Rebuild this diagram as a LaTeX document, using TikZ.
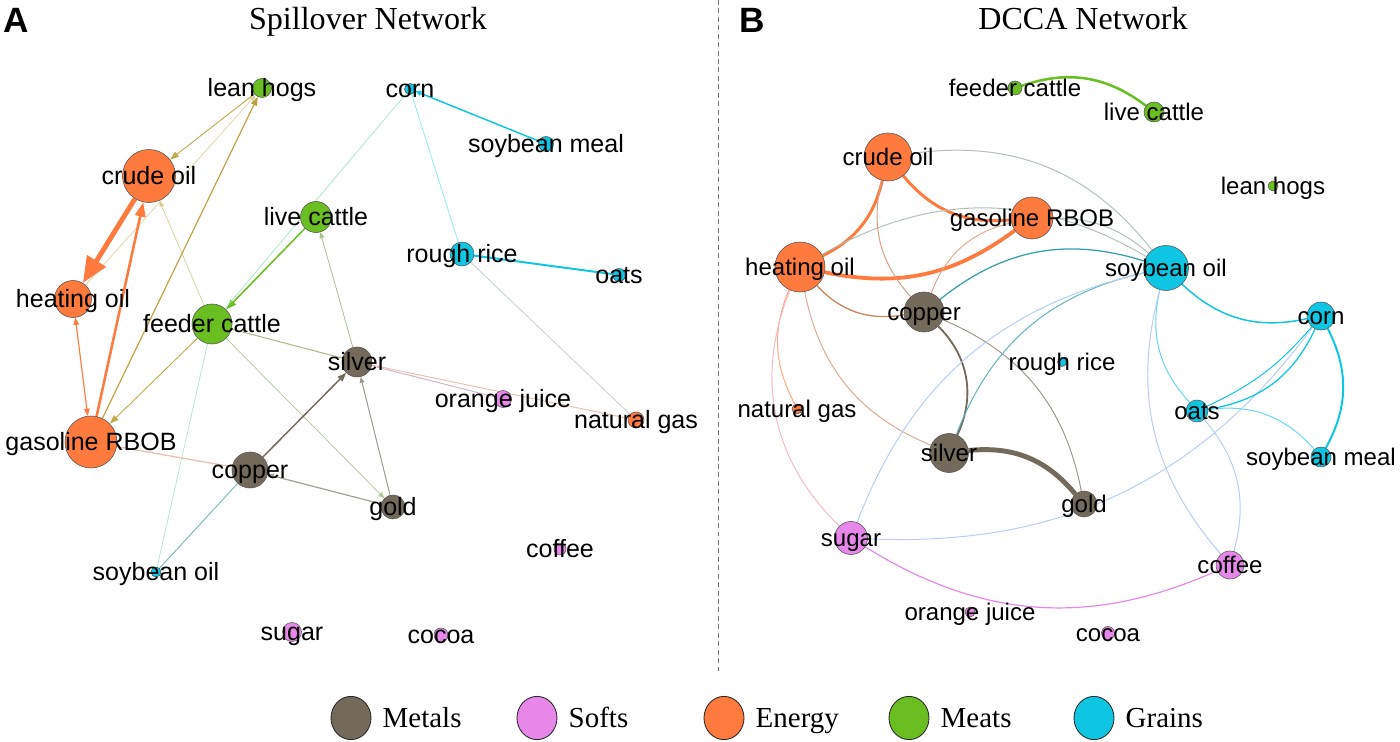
\documentclass[tikz,border=0pt]{standalone}
\usepackage{fontspec}
\setmainfont{Liberation Serif}
\setsansfont{Liberation Sans}
\usepackage{xcolor}
\usepackage{tikz}
\usetikzlibrary{arrows.meta, shapes.geometric, backgrounds, positioning}
\definecolor{metal}{RGB}{115,106,92}
\definecolor{soft}{RGB}{232,135,234}
\definecolor{energy}{RGB}{254,122,61}
\definecolor{meat}{RGB}{106,190,34}
\definecolor{grain}{RGB}{14,197,226}
\definecolor{rim}{RGB}{85,85,85}
\tikzset{
    dotnode/.style = {draw=rim, circle, line width=0.4pt, inner sep=0em, minimum size=#1*0.5mm},
    metalnode/.style = {dotnode=#1, fill=metal},
    softnode/.style = {dotnode=#1, fill=soft},
    energynode/.style = {dotnode=#1, fill=energy},
    meatnode/.style = {dotnode=#1, fill=meat},
    grainnode/.style = {dotnode=#1, fill=grain},
    textnode/.style = {inner sep=0em, font=\sffamily\fontsize{17.8}{20}\selectfont, text height=12.8pt, text depth=0pt},
    smalltextnode/.style = {inner sep=0em, font=\sffamily\fontsize{17.1}{20}\selectfont, text height=12.3pt, text depth=0pt},
    titlenode/.style = {inner sep=0em, font=\fontsize{22.8}{26}\selectfont},
    lettnode/.style = {inner sep=0em, font=\sffamily\bfseries\fontsize{25}{28}\selectfont},
    keynode/.style = {draw=black!85, ellipse, line width=0.6pt, inner sep=0em, minimum width=10mm, minimum height=10.8mm},
    keytext/.style = {inner sep=0em, font=\fontsize{20.6}{24}\selectfont, text height=13.6pt, text depth=0pt},
    divider/.style = {draw=black!55, line width=0.7pt, dash pattern=on 3.5pt off 2.5pt},
    link/.style = {draw=#1, line width=0.7pt},
    bendy/.style = {bend left=#1},
    bendy/.default = 28,
    bigtip/.style = {-{Triangle[length=6.5mm, width=5.3mm]}},
    midtip/.style = {-{Triangle[length=3.6mm, width=2.6mm]}},
    greentip/.style = {-{Triangle[length=2.6mm, width=1.8mm]}},
    smalltip/.style = {-{Triangle[length=2.2mm, width=1.6mm]}},
    tinytip/.style = {-{Triangle[length=1.5mm, width=1.2mm]}},
    twotip/.style = {{Triangle[length=1.8mm, width=1.4mm]}-{Triangle[length=1.8mm, width=1.4mm]}}
}

\begin{document}
\begin{tikzpicture}[x=0.025cm, y=0.025cm]
\useasboundingbox (0,0) rectangle (1400,742);

\node[lettnode, anchor=base west, name=lA] at (3,709) {A};
\node[titlenode, anchor=base, name=tA] at (368,712) {Spillover Network};
\node[lettnode, anchor=base west, name=lB] at (739,709) {B};
\node[titlenode, anchor=base, name=tB] at (1083,712) {DCCA Network};

\coordinate (d1) at (718,742);
\coordinate (d2) at (718,69);
\draw[divider] (d1) -- (d2);

\node[meatnode=9.5, name=A-lh, label={[textnode, name=A-lh-t]center:lean hogs}] at (262,654) {};
\node[grainnode=5.5, name=A-cn, label={[textnode, name=A-cn-t]center:corn}] at (410,653) {};
\node[grainnode=7.5, name=A-sm, label={[textnode, name=A-sm-t]center:soybean meal}] at (546,598) {};
\node[energynode=26.5, name=A-co, label={[textnode, name=A-co-t]center:crude oil}] at (149,566) {};
\node[meatnode=15.5, name=A-lc, label={[textnode, name=A-lc-t]center:live cattle}] at (316,525) {};
\node[grainnode=12, name=A-rr, label={[textnode, name=A-rr-t]center:rough rice}] at (462,488) {};
\node[grainnode=6.5, name=A-oa, label={[textnode, name=A-oa-t]center:oats}] at (619,467) {};
\node[energynode=18.5, name=A-ho, label={[textnode, name=A-ho-t]center:heating oil}] at (73,443) {};
\node[meatnode=20, name=A-fc, label={[textnode, name=A-fc-t]center:feeder cattle}] at (212,418) {};
\node[metalnode=15, name=A-si, label={[textnode, name=A-si-t]center:silver}] at (357,380) {};
\node[softnode=8.5, name=A-oj, label={[textnode, name=A-oj-t]center:orange juice}] at (503,343) {};
\node[energynode=8, name=A-ng, label={[textnode, name=A-ng-t]center:natural gas}] at (636,322) {};
\node[energynode=26, name=A-gr, label={[textnode, name=A-gr-t]center:gasoline RBOB}] at (91,300) {};
\node[metalnode=18, name=A-cu, label={[textnode, name=A-cu-t]center:copper}] at (250,272) {};
\node[metalnode=12, name=A-go, label={[textnode, name=A-go-t]center:gold}] at (393,235) {};
\node[softnode=6, name=A-cf, label={[textnode, name=A-cf-t]center:coffee}] at (560,193) {};
\node[grainnode=5, name=A-so, label={[textnode, name=A-so-t]center:soybean oil}] at (156,170) {};
\node[softnode=9.5, name=A-su, label={[textnode, name=A-su-t]center:sugar}] at (292,110) {};
\node[softnode=7, name=A-cc, label={[textnode, name=A-cc-t]center:cocoa}] at (441,107) {};

\node[meatnode=7, name=B-fc, label={[smalltextnode, name=B-fc-t]center:feeder cattle}] at (1015,654) {};
\node[meatnode=10, name=B-lc, label={[smalltextnode, name=B-lc-t]center:live cattle}] at (1154,630) {};
\node[energynode=24, name=B-co, label={[smalltextnode, name=B-co-t]center:crude oil}] at (888,585) {};
\node[meatnode=5, name=B-lh, label={[smalltextnode, name=B-lh-t]center:lean hogs}] at (1273,556) {};
\node[energynode=21, name=B-gr, label={[smalltextnode, name=B-gr-t]center:gasoline RBOB}] at (1032,524) {};
\node[energynode=25, name=B-ho, label={[smalltextnode, name=B-ho-t]center:heating oil}] at (800,475) {};
\node[grainnode=22.5, name=B-so, label={[smalltextnode, name=B-so-t]center:soybean oil}] at (1166,474) {};
\node[metalnode=20, name=B-cu, label={[smalltextnode, name=B-cu-t]center:copper}] at (924,430) {};
\node[grainnode=14, name=B-cn, label={[smalltextnode, name=B-cn-t]center:corn}] at (1321,426) {};
\node[grainnode=4.5, name=B-rr, label={[smalltextnode, name=B-rr-t]center:rough rice}] at (1062,380) {};
\node[energynode=5, name=B-ng, label={[smalltextnode, name=B-ng-t]center:natural gas}] at (797,333) {};
\node[grainnode=11, name=B-oa, label={[smalltextnode, name=B-oa-t]center:oats}] at (1197,331) {};
\node[metalnode=19.5, name=B-si, label={[smalltextnode, name=B-si-t]center:silver}] at (949,289) {};
\node[grainnode=10, name=B-sm, label={[smalltextnode, name=B-sm-t]center:soybean meal}] at (1321,285) {};
\node[metalnode=13, name=B-go, label={[smalltextnode, name=B-go-t]center:gold}] at (1084,238) {};
\node[softnode=16.5, name=B-su, label={[smalltextnode, name=B-su-t]center:sugar}] at (851,204) {};
\node[softnode=14, name=B-cf, label={[smalltextnode, name=B-cf-t]center:coffee}] at (1230,177) {};
\node[softnode=5, name=B-oj, label={[smalltextnode, name=B-oj-t]center:orange juice}] at (970,130) {};
\node[softnode=6.5, name=B-cc, label={[smalltextnode, name=B-cc-t]center:cocoa}] at (1108,109) {};

\begin{scope}[on background layer]
\draw (A-lh) edge[link=meat!50!energy!85, line width=0.65pt, smalltip] (A-co);
\draw (A-ho) edge[link=meat!50!energy!45, line width=0.5pt, tinytip] (A-lh);
\draw (A-gr) edge[link=meat!45!energy!95, line width=0.8pt, smalltip] (A-lh);
\draw (A-co) edge[link=energy, line width=3.5pt, bigtip] (A-ho);
\draw (A-gr) edge[link=energy, line width=1.8pt, midtip] (A-co);
\draw (A-ho) edge[link=energy, line width=0.8pt, twotip] (A-gr);
\draw (A-fc) edge[link=meat!50!energy!50, line width=0.5pt, tinytip] (A-co);
\draw (A-fc) edge[link=meat!50!energy!85, line width=0.65pt, smalltip] (A-gr);
\draw (A-lc) edge[link=meat, line width=1.1pt, greentip] (A-fc);
\draw (A-cn) edge[link=grain!50!meat!45, line width=0.5pt] (A-fc);
\draw (A-fc) edge[link=meat!50!metal!65, line width=0.7pt] (A-si);
\draw (A-fc) edge[link=meat!55!metal!55, line width=0.5pt, tinytip] (A-go);
\draw (A-si) edge[link=meat!50!metal!60, line width=0.55pt, tinytip] (A-lc);
\draw (A-cu) edge[link=metal, line width=1.05pt, smalltip] (A-si);
\draw (A-go) edge[link=metal!70, line width=0.7pt, tinytip] (A-si);
\draw (A-go) edge[link=metal!65, line width=0.85pt, tinytip] (A-cu);
\draw (A-gr) edge[link=energy!60!metal!45, line width=0.9pt] (A-cu);
\draw (A-fc) edge[link=grain!50!meat!40, line width=0.5pt] (A-so);
\draw (A-cu) edge[link=grain!50!metal!70, line width=0.65pt] (A-so);
\draw (A-si) edge[link=soft!50!metal!55, line width=0.7pt] (A-oj);
\draw (A-si) edge[link=energy!60!metal!45, line width=0.7pt] (A-ng);
\draw (A-rr) edge[link=grain!50!energy!50, line width=0.55pt] (A-ng);
\draw (A-cn) edge[link=grain!45, line width=0.55pt] (A-rr);
\draw (A-sm) edge[link=grain, line width=1.05pt, tinytip] (A-cn);
\draw (A-rr) edge[link=grain, line width=1.4pt] (A-oa);

\draw (B-fc) edge[link=meat, line width=1.8pt, bendy] (B-lc);
\draw (B-co) edge[link=energy, line width=2.1pt, bendy=25] (B-ho);
\draw (B-gr) edge[link=energy, line width=2.1pt, bendy] (B-co);
\draw (B-gr) edge[link=energy, line width=2.7pt, bendy=24] (B-ho);
\draw (B-co) edge[link=energy!50!grain!65, line width=0.7pt, bendy=30] (B-so);
\draw (B-ho) edge[link=energy!50!grain!65, line width=0.7pt, bendy=30] (B-so);
\draw (B-gr) edge[link=energy!50!grain!65, line width=0.7pt, bendy=20] (B-so);
\draw (B-cu) edge[link=grain!60!metal, line width=0.9pt, bendy] (B-so);
\draw (B-cu) edge[link=energy!60!metal!70, line width=0.7pt, bendy] (B-co);
\draw (B-cu) edge[link=energy!60!metal!90, line width=0.9pt, bendy] (B-ho);
\draw (B-cu) edge[link=energy!60!metal!60, line width=0.7pt, bendy] (B-gr);
\draw (B-cu) edge[link=metal, line width=1.3pt, bendy=35] (B-si);
\draw (B-cu) edge[link=metal!70, line width=0.7pt, bendy] (B-go);
\draw (B-si) edge[link=metal, line width=3.5pt, bendy] (B-go);
\draw (B-si) edge[link=grain!60!metal!80, line width=0.7pt, bendy] (B-so);
\draw (B-si) edge[link=energy!60!metal!60, line width=0.7pt, bendy] (B-ho);
\draw (B-ng) edge[link=energy!65, line width=0.7pt, bendy=25] (B-ho);
\draw (B-su) edge[link=energy!50!soft!55, line width=0.7pt, bendy=34] (B-ho);
\draw (B-su) edge[link=soft!50!grain!55, line width=0.7pt, bendy] (B-so);
\draw (B-cn) edge[link=soft!50!grain!55, line width=0.7pt, bendy] (B-su);
\draw (B-cf) edge[link=soft, line width=0.85pt, bendy] (B-su);
\draw (B-cn) edge[link=grain, line width=1.05pt, bendy] (B-so);
\draw (B-oa) edge[link=grain!65, line width=0.7pt, bendy] (B-so);
\draw (B-cf) edge[link=soft!50!grain!55, line width=0.7pt, bendy] (B-so);
\draw (B-cn) edge[link=grain, line width=0.9pt, bendy] (B-oa);
\draw (B-cn) edge[link=grain, line width=0.7pt, bendy=12] (B-oa);
\draw (B-oa) edge[link=grain!65, line width=0.7pt, bendy] (B-sm);
\draw (B-cn) edge[link=grain, line width=1.4pt, bendy] (B-sm);
\draw (B-oa) edge[link=soft!50!grain!55, line width=0.7pt, bendy] (B-cf);
\end{scope}

\node[keynode, fill=metal, name=k1] at (351,24) {};
\node[keytext, right=2.75mm of k1, name=k1-t] {Metals};
\node[keynode, fill=soft, name=k2] at (537,24) {};
\node[keytext, right=2.75mm of k2, name=k2-t] {Softs};
\node[keynode, fill=energy, name=k3] at (724,24) {};
\node[keytext, right=2.75mm of k3, name=k3-t] {Energy};
\node[keynode, fill=meat, name=k4] at (909,24) {};
\node[keytext, right=2.75mm of k4, name=k4-t] {Meats};
\node[keynode, fill=grain, name=k5] at (1094,24) {};
\node[keytext, right=2.75mm of k5, name=k5-t] {Grains};
\end{tikzpicture}
\end{document}
